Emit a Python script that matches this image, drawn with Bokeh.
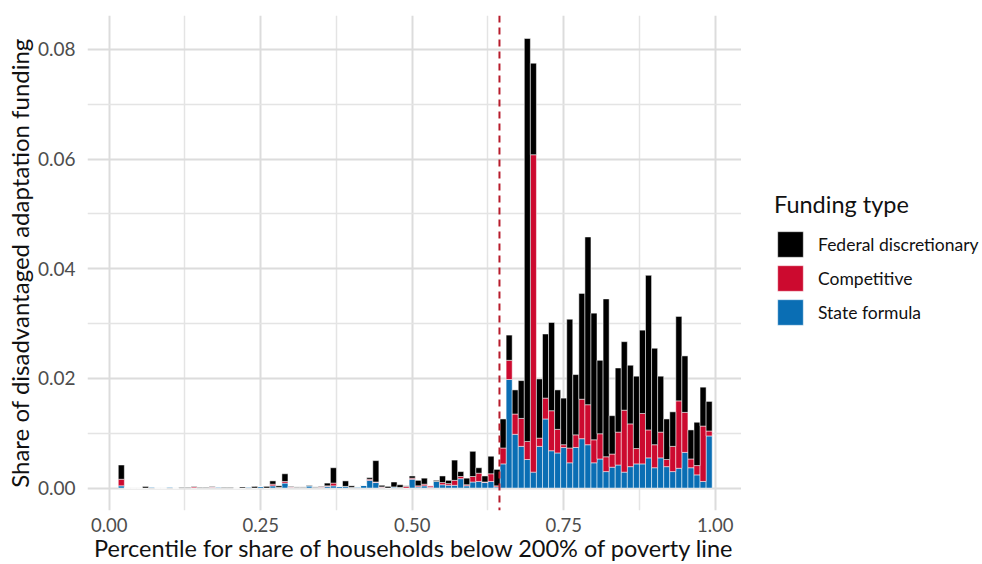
from bokeh.plotting import figure
from bokeh.layouts import row
from bokeh.models import (Range1d, FixedTicker, PrintfTickFormatter, Span,
                          Legend, LegendItem, ColumnDataSource)
from bokeh.embed import file_html
from bokeh.resources import INLINE

# Bin centres (percentile)
percentile = [0.02, 0.03, 0.04, 0.05, 0.06, 0.07, 0.08, 0.09, 0.10, 0.11,
              0.12, 0.13, 0.14, 0.15, 0.16, 0.17, 0.18, 0.19, 0.20, 0.21,
              0.22, 0.23, 0.24, 0.25, 0.26, 0.27, 0.28, 0.29, 0.30, 0.31,
              0.32, 0.33, 0.34, 0.35, 0.36, 0.37, 0.38, 0.39, 0.40, 0.41,
              0.42, 0.43, 0.44, 0.45, 0.46, 0.47, 0.48, 0.49, 0.50, 0.51,
              0.52, 0.53, 0.54, 0.55, 0.56, 0.57, 0.58, 0.59, 0.60, 0.61,
              0.62, 0.63, 0.64, 0.65, 0.66, 0.67, 0.68, 0.69, 0.70, 0.71,
              0.72, 0.73, 0.74, 0.75, 0.76, 0.77, 0.78, 0.79, 0.80, 0.81,
              0.82, 0.83, 0.84, 0.85, 0.86, 0.87, 0.88, 0.89, 0.90, 0.91,
              0.92, 0.93, 0.94, 0.95, 0.96, 0.97, 0.98, 0.99]

state_formula = [0.0004, 0, 0, 0, 0, 0.0002, 0, 0, 0.0002, 0,
                 0.0001, 0.0001, 0, 0.0001, 0.0001, 0.0001, 0.0002, 0.0001, 0.0001, 0,
                 0, 0.0002, 0, 0.0003, 0, 0.0004, 0.0001, 0.0009, 0.0001, 0.0001,
                 0.0001, 0.0004, 0.0001, 0.0001, 0.0003, 0.0004, 0.0003, 0.0003, 0.0001, 0.0002,
                 0.0005, 0.0014, 0.0010, 0.0001, 0, 0.0002, 0.0001, 0, 0.0016, 0.0002,
                 0.0004, 0.0001, 0.0012, 0.0006, 0.0005, 0.0005, 0.0017, 0.0004, 0.0011, 0.0012,
                 0.0010, 0.0012, 0.0002, 0.0044, 0.0198, 0.0098, 0.0076, 0.0052, 0.0029, 0.0076,
                 0.0126, 0.0068, 0.0064, 0.0074, 0.0046, 0.0074, 0.0090, 0.0079, 0.0046, 0.0053,
                 0.0030, 0.0038, 0.0042, 0.0029, 0.0039, 0.0044, 0.0044, 0.0055, 0.0037, 0.0055,
                 0.0039, 0.0030, 0.0036, 0.0065, 0.0037, 0.0024, 0.0012, 0.0095]

competitive = [0.0012, 0, 0, 0, 0, 0, 0, 0, 0, 0,
               0, 0, 0.0002, 0, 0, 0.0001, 0, 0, 0, 0,
               0, 0, 0, 0, 0, 0.0003, 0, 0.0003, 0.0001, 0,
               0, 0, 0, 0.0001, 0.0001, 0.0005, 0, 0, 0, 0,
               0, 0.0002, 0.0001, 0.0001, 0, 0, 0, 0.0003, 0.0002, 0.0002,
               0.0003, 0.0003, 0, 0.0004, 0.0003, 0.0009, 0.0004, 0.0002, 0.0010, 0.0015,
               0.0001, 0.0014, 0.0002, 0.0029, 0.0035, 0.0037, 0.0051, 0.0033, 0.0579, 0.0015,
               0.0038, 0.0073, 0.0043, 0.0005, 0.0027, 0.0023, 0.0072, 0.0073, 0.0042, 0.0046,
               0.0027, 0.0024, 0.0060, 0.0113, 0.0078, 0.0028, 0.0092, 0.0051, 0.0042, 0.0047,
               0.0013, 0.0046, 0.0123, 0.0073, 0.0016, 0.0017, 0.0101, 0.0009]

federal_discretionary = [0.0026, 0, 0, 0, 0.0003, 0, 0, 0, 0, 0,
                         0.0001, 0.0001, 0.0001, 0.0001, 0.0001, 0.0001, 0, 0.0001, 0.0001, 0,
                         0.0002, 0, 0.0003, 0, 0.0003, 0.0006, 0.0003, 0.0014, 0.0001, 0.0001,
                         0.0001, 0.0001, 0.0001, 0.0001, 0.0005, 0.0028, 0, 0.0010, 0.0003, 0,
                         0, 0.0003, 0.0039, 0.0003, 0.0003, 0.0009, 0.0005, 0.0001, 0.0004, 0.0010,
                         0.0011, 0, 0.0002, 0.0012, 0.0006, 0.0037, 0.0009, 0.0012, 0.0046, 0.0010,
                         0.0011, 0.0032, 0.0030, 0.0053, 0.0046, 0.0044, 0.0069, 0.0735, 0.0167, 0.0108,
                         0.0117, 0.0161, 0.0072, 0.0085, 0.0235, 0.0110, 0.0193, 0.0306, 0.0231, 0.0134,
                         0.0288, 0.0070, 0.0117, 0.0125, 0.0107, 0.0132, 0.0152, 0.0282, 0.0176, 0.0102,
                         0.0074, 0.0063, 0.0154, 0.0103, 0.0053, 0.0079, 0.0071, 0.0054]

series_names = ["State formula", "Competitive", "Federal discretionary"]
series_colors = ["#0A6EB4", "#CC0A2F", "#000000"]
threshold = 0.644

x_ticks = [0.0, 0.25, 0.5, 0.75, 1.0]
x_minor = [0.125, 0.375, 0.625, 0.875]
y_ticks = [0.0, 0.02, 0.04, 0.06, 0.08]
y_minor = [0.01, 0.03, 0.05, 0.07]

source = ColumnDataSource(dict(percentile=percentile, state=state_formula,
                               competitive=competitive,
                               federal=federal_discretionary))

FONT = "Lato"
H = 564
W_MAIN = 741
W_LEG = 241

p = figure(width=W_MAIN, height=H, output_backend="svg", toolbar_location=None,
           x_range=Range1d(-0.0358, 1.0434), y_range=Range1d(-0.0041, 0.0862),
           min_border_left=87, min_border_right=0, min_border_top=15,
           min_border_bottom=52)
p.outline_line_color = None
p.background_fill_color = "white"

bar_kw = dict(width=0.01, line_color="white", line_width=0.5)
renderers = p.vbar_stack(["state", "competitive", "federal"], x="percentile",
                         color=series_colors, source=source, **bar_kw)

span = Span(location=threshold, dimension="height", line_color="#B71C2C",
            line_dash="7 5", line_width=2)
p.add_layout(span)

# Axes
p.xaxis.ticker = FixedTicker(ticks=x_ticks, minor_ticks=x_minor)
p.yaxis.ticker = FixedTicker(ticks=y_ticks, minor_ticks=y_minor)
p.xaxis.formatter = PrintfTickFormatter(format="%.2f")
p.yaxis.formatter = PrintfTickFormatter(format="%.2f")
for ax in (p.xaxis, p.yaxis):
    ax.axis_line_color = None
    ax.major_tick_line_color = None
    ax.minor_tick_line_color = None
    ax.major_tick_out = 0
    ax.major_tick_in = 0
    ax.major_label_text_font = FONT
    ax.major_label_text_color = "#4D4D4D"
    ax.axis_label_text_font = FONT
    ax.axis_label_text_font_style = "normal"
    ax.axis_label_text_color = "#111111"
p.xaxis.major_label_text_font_size = "18.5px"
p.yaxis.major_label_text_font_size = "19px"
p.xaxis.axis_label_text_font_size = "23.5px"
p.yaxis.axis_label_text_font_size = "24px"
p.xaxis.axis_label = "Percentile for share of households below 200% of poverty line"
p.yaxis.axis_label = "Share of disadvantaged adaptation funding"
p.xaxis.major_label_standoff = 3
p.yaxis.major_label_standoff = 8
p.xaxis.axis_label_standoff = -1
p.yaxis.axis_label_standoff = 1

# Grid
for g in (p.xgrid, p.ygrid):
    g.grid_line_color = "#DCDCDC"
    g.grid_line_width = 2
    g.minor_grid_line_color = "#E4E4E4"
    g.minor_grid_line_width = 1.5

# Legend panel (separate figure so the legend sits outside the data panel)
lg = figure(width=W_LEG, height=H, output_backend="svg",
            toolbar_location=None, x_axis_location=None, y_axis_location=None,
            x_range=Range1d(0, 1), y_range=Range1d(0, 1),
            min_border_left=0, min_border_right=0, min_border_top=15,
            min_border_bottom=52)
lg.outline_line_color = None
lg.xgrid.visible = False
lg.ygrid.visible = False
offscreen = ColumnDataSource(dict(x=[10], top=[10]))
dummy = [lg.vbar(x="x", top="top", source=offscreen, color=c, **bar_kw)
         for c in series_colors]

items = [LegendItem(label=series_names[2], renderers=[dummy[2]]),
         LegendItem(label=series_names[1], renderers=[dummy[1]]),
         LegendItem(label=series_names[0], renderers=[dummy[0]])]
legend = Legend(items=items, title="Funding type", location=(33, 182),
                padding=0, margin=0, spacing=2, glyph_width=32,
                glyph_height=32, label_height=32, label_standoff=12,
                border_line_color=None, background_fill_alpha=0,
                title_standoff=10)
legend.title_text_font = FONT
legend.title_text_font_size = "23.5px"
legend.title_text_font_style = "normal"
legend.title_text_color = "#111111"
legend.label_text_font = FONT
legend.label_text_font_size = "17.5px"
legend.label_text_color = "#111111"
legend.label_text_baseline = "middle"
lg.add_layout(legend, "center")

layout = row(p, lg)
open("out.html", "w").write(file_html(layout, INLINE))
